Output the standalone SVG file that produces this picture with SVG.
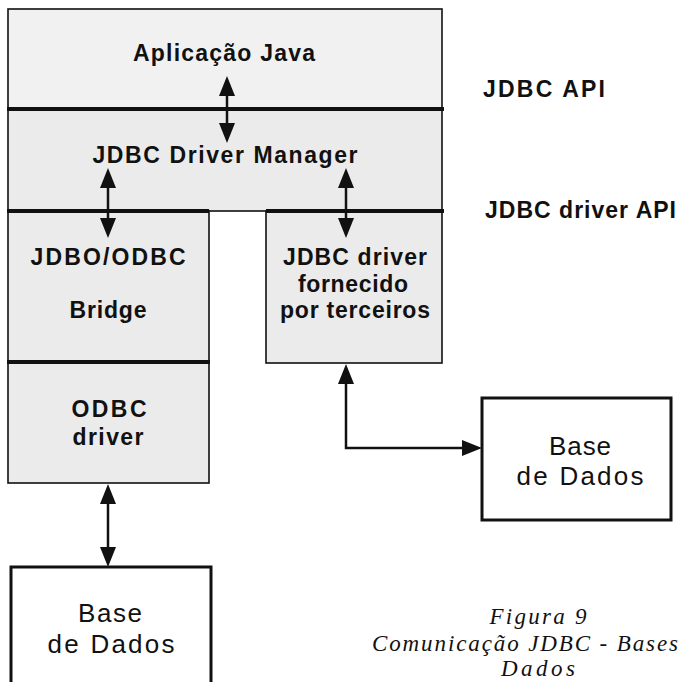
<svg xmlns="http://www.w3.org/2000/svg" width="680" height="682" viewBox="0 0 680 682">
  <style>
    .box { fill: #ebebeb; stroke: #111; stroke-width: 1.6; }
    .box-light { fill: #f1f1f1; stroke: #111; stroke-width: 1.6; }
    .sep { stroke: #111; stroke-width: 4; fill: none; }
    .db { fill: #ffffff; stroke: #111; stroke-width: 3; }
    .lbl { font-family: "Liberation Sans", Arial, sans-serif; font-weight: bold; font-size: 23px; fill: #111; text-anchor: middle; }
    .side { font-family: "Liberation Sans", Arial, sans-serif; font-weight: bold; font-size: 23px; fill: #111; text-anchor: start; }
    .dbt { font-family: "Liberation Sans", Arial, sans-serif; font-size: 26px; fill: #111; text-anchor: middle; }
    .cap { font-family: "Liberation Serif", "Times New Roman", serif; font-style: italic; font-size: 23px; fill: #111; }
    .conn { stroke: #111; stroke-width: 2.5; fill: none; marker-start: url(#ah); marker-end: url(#ah); }
  </style>
  <defs>
    <marker id="ah" markerUnits="userSpaceOnUse" markerWidth="20" markerHeight="16" refX="15" refY="8" orient="auto-start-reverse" viewBox="0 0 20 16">
      <path d="M0,0 L20,8 L0,16 z" fill="#111"/>
    </marker>
  </defs>
  <rect width="680" height="682" fill="#ffffff"/>

  <g id="app">
    <rect class="box-light" x="8" y="9" width="434" height="100"/>
    <text class="lbl" x="224" y="61" textLength="182" lengthAdjust="spacing">Aplicação Java</text>
  </g>

  <g id="manager">
    <rect class="box" x="8" y="109" width="434" height="102"/>
    <line class="sep" x1="7" y1="109" x2="444" y2="109"/>
    <text class="lbl" x="225" y="163" textLength="265" lengthAdjust="spacing">JDBC Driver Manager</text>
  </g>

  <g id="bridge">
    <rect class="box" x="8" y="211" width="201" height="151"/>
    <line class="sep" x1="7" y1="211" x2="209" y2="211"/>
    <text class="lbl" x="108" y="265" textLength="155" lengthAdjust="spacing">JDBO/ODBC</text>
    <text class="lbl" x="108" y="318" textLength="77" lengthAdjust="spacing">Bridge</text>
  </g>

  <g id="odbc">
    <rect class="box" x="8" y="362" width="201" height="121"/>
    <line class="sep" x1="7" y1="362" x2="210" y2="362"/>
    <text class="lbl" x="109" y="417" textLength="75" lengthAdjust="spacing">ODBC</text>
    <text class="lbl" x="108" y="445" textLength="71" lengthAdjust="spacing">driver</text>
  </g>

  <g id="thirdparty">
    <rect class="box" x="266" y="211" width="176" height="152"/>
    <line class="sep" x1="266" y1="211" x2="444" y2="211"/>
    <text class="lbl" x="355" y="265" textLength="144" lengthAdjust="spacing">JDBC driver</text>
    <text class="lbl" x="353" y="292" textLength="110" lengthAdjust="spacing">fornecido</text>
    <text class="lbl" x="355" y="318" textLength="150" lengthAdjust="spacing">por terceiros</text>
  </g>

  <g id="db-right">
    <rect class="db" x="482" y="398" width="189" height="122"/>
    <text class="dbt" x="580" y="455" textLength="62" lengthAdjust="spacing">Base</text>
    <text class="dbt" x="580" y="485" textLength="127" lengthAdjust="spacing">de Dados</text>
  </g>

  <g id="db-left">
    <rect class="db" x="11" y="567" width="200" height="130"/>
    <text class="dbt" x="110" y="622" textLength="64" lengthAdjust="spacing">Base</text>
    <text class="dbt" x="111" y="653" textLength="127" lengthAdjust="spacing">de Dados</text>
  </g>

  <g id="api-labels">
    <text class="side" x="483" y="97" textLength="122" lengthAdjust="spacing">JDBC API</text>
    <text class="side" x="485" y="218" textLength="191" lengthAdjust="spacing">JDBC driver API</text>
  </g>

  <g id="caption">
    <text class="cap" x="538" y="624" text-anchor="middle" textLength="97" lengthAdjust="spacing">Figura 9</text>
    <text class="cap" x="372" y="651" textLength="306" lengthAdjust="spacing">Comunicação JDBC - Bases</text>
    <text class="cap" x="538" y="676" text-anchor="middle" textLength="74" lengthAdjust="spacing">Dados</text>
  </g>

  <g id="connectors">
    <path class="conn" d="M227,81 V138"/>
    <path class="conn" d="M108,173 V233"/>
    <path class="conn" d="M346,173 V233"/>
    <path class="conn" d="M108,489 V562"/>
    <path class="conn" d="M346,369 V448 H477"/>
  </g>
</svg>
